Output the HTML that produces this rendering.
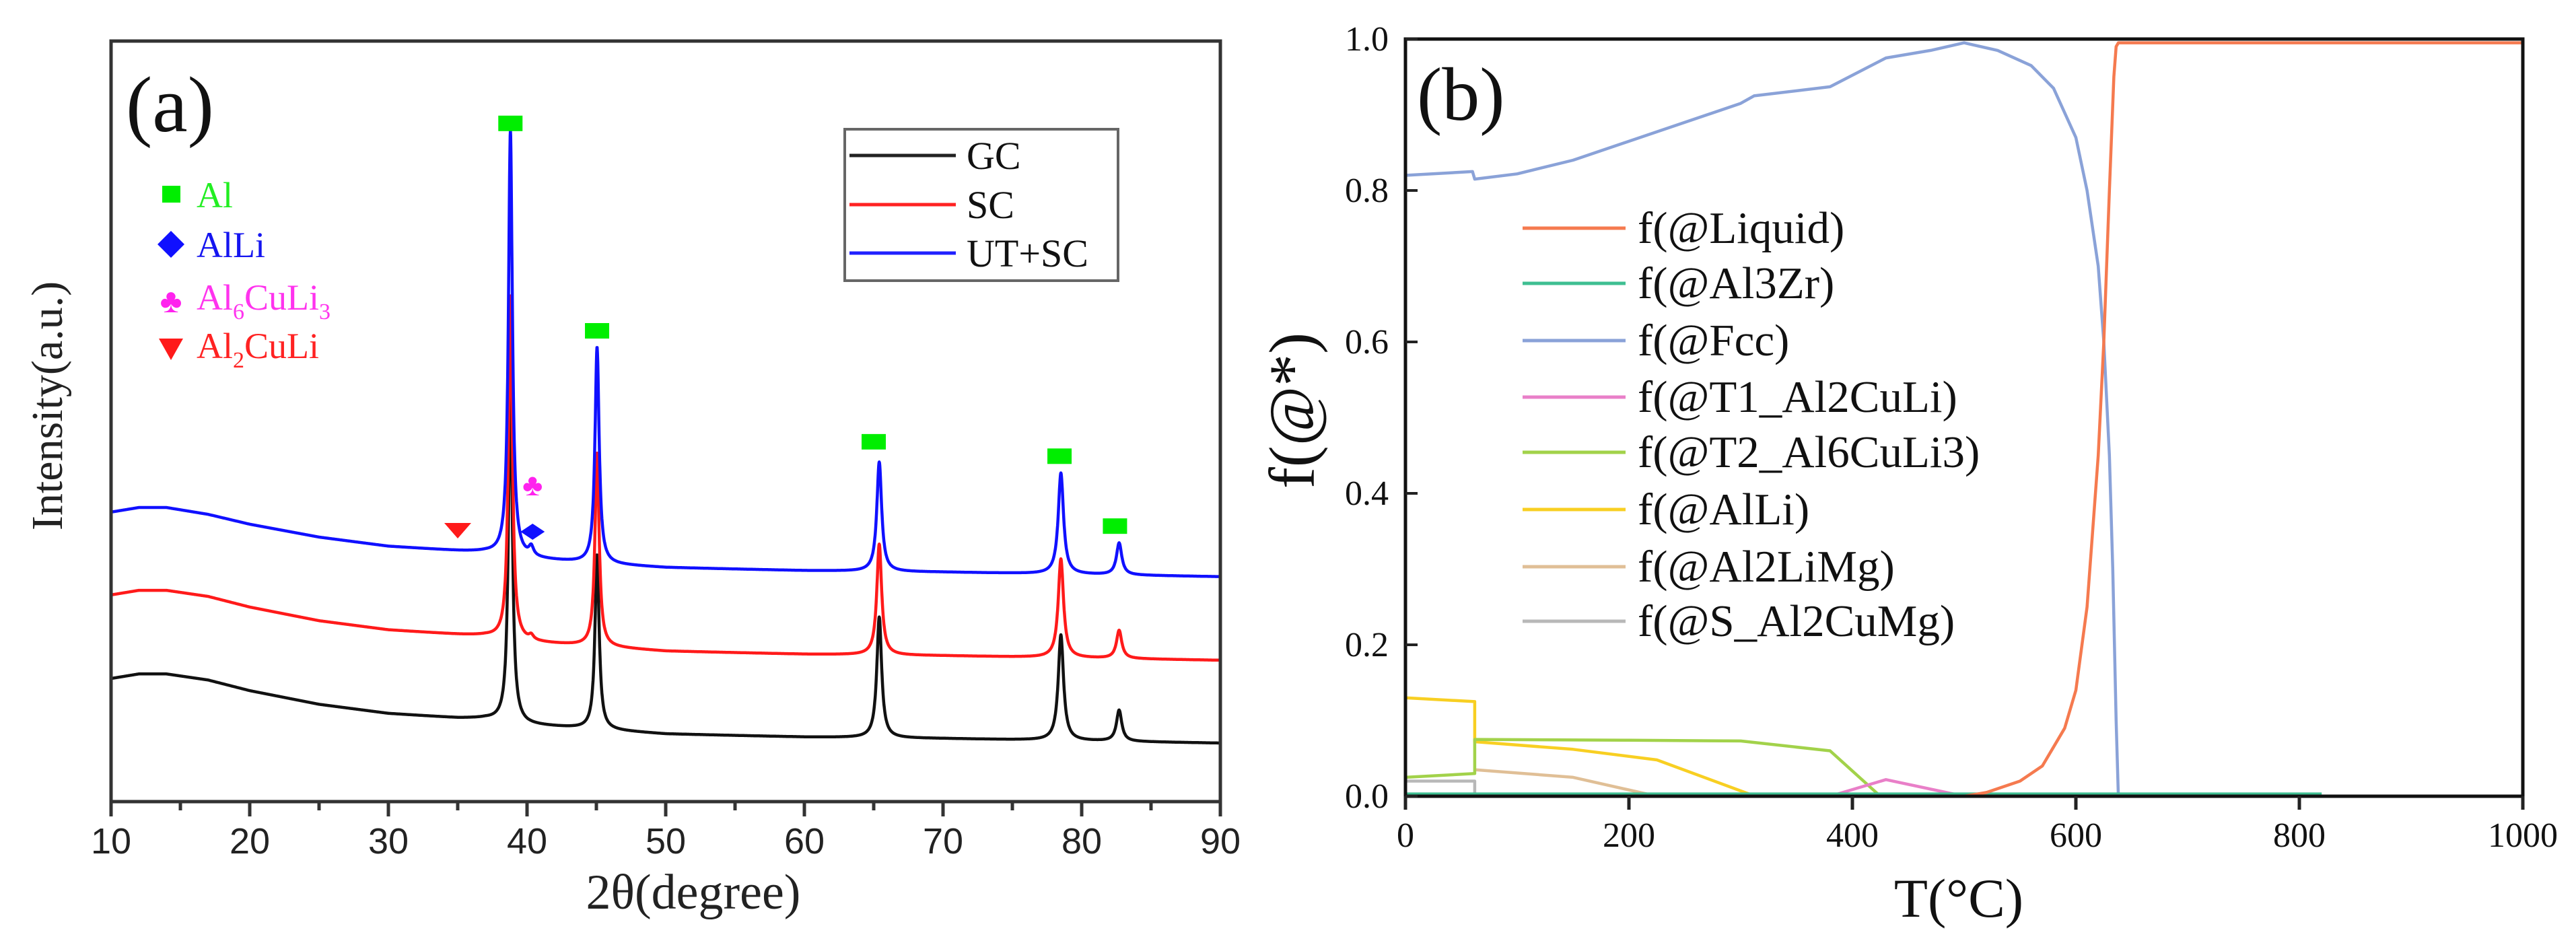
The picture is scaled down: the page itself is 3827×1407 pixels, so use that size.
<!DOCTYPE html>
<html><head><meta charset="utf-8"><style>
html,body{margin:0;padding:0;background:#fff}
svg{display:block}
text{font-family:"Liberation Serif",serif}
</style></head><body>
<svg id="fig" width="3827" height="1407" viewBox="0 0 3827 1407" xmlns="http://www.w3.org/2000/svg">
<rect width="3827" height="1407" fill="#fff"/>
<g id="pa"></g>
<g id="pb"></g>
</svg>
<script>
// ---------- Panel (a) data ----------
const aTicks = [10,20,30,40,50,60,70,80,90];
const aBaseX = [10,12,14,17,20,25,30,35,37,40,45,50,60,70,90];
const aBaseGC = [162,168,168,160,146,128,116,110,109,101,95,89,85,83,77];
const aBaseSC = [272,278,278,270,256,238,226,220,218,210,204,198,194,192,186];
const aBaseUT = [381,387,387,378,365,348,336,330,328,320,313,308,304,302,296];
const aPeakPos = [38.8,40.3,45.05,65.4,78.5,82.7];
const aPeakGC = [450,0,230,159,139,41];
const aPeakSC = [452,6,255,146,130,37];
const aPeakUT = [560,12,285,144,133,42];
const aPeakW = [0.17,0.2,0.18,0.21,0.23,0.23];
const aMarkX = [38.8,45.05,65.0,78.4,82.4];
const aMarkV = [893,620,474,455,363];
// ---------- Panel (b) data ----------
const bXTicks=[0,200,400,600,800,1000];
const bYTicks=[0,0.2,0.4,0.6,0.8,1.0];
const bNames=["f(@Liquid)","f(@Al3Zr)","f(@Fcc)","f(@T1_Al2CuLi)","f(@T2_Al6CuLi3)","f(@AlLi)","f(@Al2LiMg)","f(@S_Al2CuMg)"];
const bColors=["#f57a4f","#3fbf92","#8aa2d8","#e97fc8","#a2d24a","#f8cf22","#e0bf96","#b8b8b8"];
const liqT=[0,500,520,550,570,590,600,610,620,625,630,634,636,638,1000];
const liqF=[0,0,0.005,0.02,0.04,0.09,0.14,0.25,0.45,0.6,0.8,0.95,0.99,0.995,0.995];
const zrT=[0,820];
const zrF=[0.003,0.003];
const fccT=[0,60,62,100,150,200,250,300,312,380,430,470,500,530,560,580,600,610,620,625,630,633,636,638,700];
const fccF=[0.82,0.825,0.815,0.822,0.84,0.865,0.89,0.915,0.925,0.937,0.975,0.985,0.995,0.985,0.965,0.935,0.87,0.8,0.7,0.6,0.45,0.3,0.1,0,0];
const t1T=[380,430,500];
const t1F=[0,0.022,0];
const t2T=[0,62,62,200,300,380,425];
const t2F=[0.025,0.03,0.075,0.074,0.073,0.06,0];
const alliT=[0,62,62,150,225,313];
const alliF=[0.13,0.125,0.072,0.062,0.048,0];
const lmgT=[62,150,225];
const lmgF=[0.035,0.025,0];
const scmT=[0,62,62];
const scmF=[0.02,0.02,0];

const NS="http://www.w3.org/2000/svg";
function mk(parent,tag,attrs,txt){const e=document.createElementNS(NS,tag);for(const k in attrs)e.setAttribute(k,attrs[k]);if(txt!==undefined)e.textContent=txt;parent.appendChild(e);return e;}
const pa=document.getElementById('pa'), pb=document.getElementById('pb');

// ----- Panel a axes -----
const aL=165,aR=1813,aT=61,aB=1191;
const ax=v=>aL+(v-10)/80*(aR-aL);
const ay=v=>aB-v*1.129;
function interp(xs,ys,x){for(let i=0;i<xs.length-1;i++){if(x<=xs[i+1]){const t=(x-xs[i])/(xs[i+1]-xs[i]);return ys[i]+t*(ys[i+1]-ys[i]);}}return ys[ys.length-1];}
function xrd(base,peaks){let d="";for(let x=10;x<=90.0001;x+=0.02){let v=interp(aBaseX,base,x);for(let i=0;i<aPeakPos.length;i++){const g=aPeakW[i];const dx=x-aPeakPos[i];v+=peaks[i]*g*g/(dx*dx+g*g);}d+=(d?"L":"M")+ax(x).toFixed(1)+","+ay(v).toFixed(1);}return d;}
const series=[["GC",aBaseGC,aPeakGC,"#111"],["SC",aBaseSC,aPeakSC,"#ff1a1a"],["UT+SC",aBaseUT,aPeakUT,"#1010ff"]];
series.forEach(s=>{const p=mk(pa,'path',{d:xrd(s[1],s[2]),fill:'none',stroke:s[3],'stroke-width':4.5,'stroke-linejoin':'round'});

});
const fa=mk(pa,'rect',{x:aL,y:aT,width:aR-aL,height:aB-aT,fill:'none',stroke:'#333','stroke-width':5});


for(let v=10;v<=90;v+=5){const major=v%10===0;mk(pa,'line',{x1:ax(v),x2:ax(v),y1:aB,y2:aB+(major?22:13),stroke:'#333','stroke-width':5});}
aTicks.forEach(v=>{const t=mk(pa,'text',{x:ax(v),y:1268,'text-anchor':'middle','font-size':54,style:'font-family:"Liberation Sans",sans-serif',fill:'#222'},String(v));

});
aMarkX.forEach((v,i)=>{const r=mk(pa,'rect',{x:ax(v)-18,y:ay(aMarkV[i])-11,width:36,height:23,fill:'#00ee00'});

});
mk(pa,'path',{d:`M${ax(35)-20},${777} L${ax(35)+20},${777} L${ax(35)},${800} Z`,fill:'#ff1a1a',});
mk(pa,'path',{d:`M${ax(40.4)},${778} L${ax(40.4)+18},${790} L${ax(40.4)},${802} L${ax(40.4)-18},${790} Z`,fill:'#1010ff',});
mk(pa,'text',{x:ax(40.4),y:736,'text-anchor':'middle','font-size':46,fill:'#ff22ee',},'♣');
const pl=mk(pa,'g',{});
mk(pl,'rect',{x:241,y:276,width:27,height:25,fill:'#00ee00'});
mk(pl,'text',{x:292,y:308,'font-size':54,fill:'#22ee22'},'Al');
mk(pl,'path',{d:'M254,343 L274,363 L254,383 L234,363 Z',fill:'#1010ff'});
mk(pl,'text',{x:292,y:382,'font-size':54,fill:'#1515f0'},'AlLi');
mk(pl,'text',{x:254,y:464,'text-anchor':'middle','font-size':50,fill:'#ff22ee'},'♣');
const t6=mk(pl,'text',{x:292,y:460,'font-size':54,fill:'#ff33ee'});t6.innerHTML='Al<tspan font-size="34" dy="14">6</tspan><tspan dy="-14">CuLi</tspan><tspan font-size="34" dy="14">3</tspan>';
mk(pl,'path',{d:'M236,503 L272,503 L254,535 Z',fill:'#ff1a1a'});
const t2=mk(pl,'text',{x:292,y:532,'font-size':54,fill:'#ff2222'});t2.innerHTML='Al<tspan font-size="34" dy="14">2</tspan><tspan dy="-14">CuLi</tspan>';
const lg=mk(pa,'g',{});
mk(lg,'rect',{x:1255,y:192,width:406,height:225,fill:'#fff',stroke:'#666','stroke-width':4});
[["GC","#222",231],["SC","#ff2222",304],["UT+SC","#2020ff",376]].forEach(e=>{mk(lg,'line',{x1:1262,x2:1420,y1:e[2],y2:e[2],stroke:e[1],'stroke-width':5});mk(lg,'text',{x:1436,y:e[2]+20,'font-size':58,fill:'#111'},e[0]);});
mk(pa,'text',{x:187,y:195,'font-size':118,fill:'#111',},'(a)');
mk(pa,'text',{x:1030,y:1350,'text-anchor':'middle','font-size':74,fill:'#222',},'2θ(degree)');
mk(pa,'text',{x:0,y:0,transform:'translate(92,603) rotate(-90)','text-anchor':'middle','font-size':66,fill:'#222',},'Intensity(a.u.)');

// ----- Panel b -----
const bL=2088,bR=3748,bT=58,bB=1183;
const bx=t=>bL+t/1000*(bR-bL);
const by=f=>bB-f*(bB-bT);
const curves=[[liqT,liqF],[zrT,zrF],[fccT,fccF],[t1T,t1F],[t2T,t2F],[alliT,alliF],[lmgT,lmgF],[scmT,scmF]];
const order=[2,7,6,5,4,3,1,0];
order.forEach(i=>{const c=curves[i];let d="";c[0].forEach((t,j)=>{d+=(j?"L":"M")+bx(t).toFixed(1)+","+by(c[1][j]).toFixed(1);});
const p=mk(pb,'path',{d:d,fill:'none',stroke:bColors[i],'stroke-width':4.5,'stroke-linejoin':'round'});

});
const fb=mk(pb,'rect',{x:bL,y:bT,width:bR-bL,height:bB-bT,fill:'none',stroke:'#111','stroke-width':5});


bXTicks.forEach(v=>{mk(pb,'line',{x1:bx(v),x2:bx(v),y1:bB,y2:bB+20,stroke:'#222','stroke-width':5});
const t=mk(pb,'text',{x:bx(v),y:1258,'text-anchor':'middle','font-size':52,fill:'#111'},String(v));

});
bYTicks.forEach(v=>{mk(pb,'line',{x1:bL,x2:bL+18,y1:by(v),y2:by(v),stroke:'#222','stroke-width':4});
const t=mk(pb,'text',{x:2063,y:by(v)+17,'text-anchor':'end','font-size':52,fill:'#111'},v.toFixed(1));

});
const lb=mk(pb,'g',{});
const lys=[339,421,506,590,672,757,842,923];
bNames.forEach((n,i)=>{mk(lb,'line',{x1:2262,x2:2415,y1:lys[i],y2:lys[i],stroke:bColors[i],'stroke-width':5});mk(lb,'text',{x:2433,y:lys[i]+22,'font-size':67,fill:'#111'},n);});
mk(pb,'text',{x:2105,y:178,'font-size':112,fill:'#111',},'(b)');
mk(pb,'text',{x:2910,y:1362,'text-anchor':'middle','font-size':82,fill:'#111',},'T(°C)');
mk(pb,'text',{x:0,y:0,transform:'translate(1952,610) rotate(-90)','text-anchor':'middle','font-size':96,fill:'#111',},'f(@*)');
</script>
</body></html>
